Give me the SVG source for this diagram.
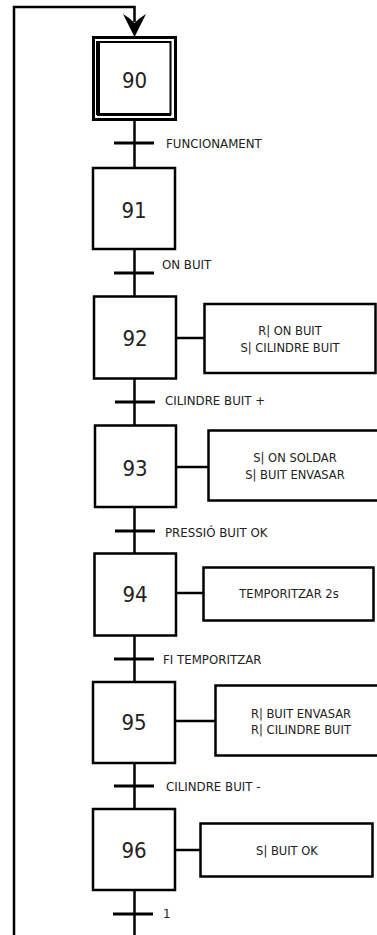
<svg xmlns="http://www.w3.org/2000/svg" width="377" height="935" viewBox="0 0 377 935">
<style>
.step{fill:#fff;stroke:#000;stroke-width:2.5}
.act{fill:#fff;stroke:#000;stroke-width:2.5}
.ln{fill:none;stroke:#000;stroke-width:2.5}
.bar{stroke:#000;stroke-width:3}
.num{font-family:"DejaVu Sans Condensed","DejaVu Sans",sans-serif;font-size:22px;fill:#222;text-anchor:middle}
.lbl{font-family:"DejaVu Sans",sans-serif;font-size:11.8px;fill:#222}
.atx{font-family:"DejaVu Sans",sans-serif;font-size:11.5px;fill:#222;text-anchor:middle}
</style>
<rect width="377" height="935" fill="#fff"/>
<g id="connectors">
<polyline class="ln" points="14,935 14,7 134.5,7 134.5,22" stroke-width="3"/>
<path d="M123,14 Q130,18 134.5,23 Q139,18 146,14 L134.5,37 Z" fill="#000"/>
<line class="ln" x1="134.5" y1="120" x2="134.5" y2="168"/>
<line class="ln" x1="134.5" y1="249" x2="134.5" y2="296"/>
<line class="ln" x1="134.5" y1="379" x2="134.5" y2="425"/>
<line class="ln" x1="134.5" y1="507" x2="134.5" y2="553"/>
<line class="ln" x1="134.5" y1="636" x2="134.5" y2="682"/>
<line class="ln" x1="134.5" y1="763" x2="134.5" y2="809"/>
<line class="ln" x1="134.5" y1="890" x2="134.5" y2="935"/>
<line class="bar" x1="114" y1="143" x2="154" y2="143"/>
<line class="bar" x1="114" y1="273" x2="154" y2="273"/>
<line class="bar" x1="115" y1="402" x2="155" y2="402"/>
<line class="bar" x1="115" y1="531" x2="155" y2="531"/>
<line class="bar" x1="114" y1="659" x2="154" y2="659"/>
<line class="bar" x1="114" y1="786" x2="154" y2="786"/>
<line class="bar" x1="113" y1="914" x2="153" y2="914"/>
<line class="ln" x1="176" y1="338" x2="204" y2="338"/>
<line class="ln" x1="176" y1="467" x2="208" y2="467"/>
<line class="ln" x1="176" y1="593" x2="203" y2="593"/>
<line class="ln" x1="175" y1="721" x2="215" y2="721"/>
<line class="ln" x1="175" y1="850" x2="200" y2="850"/>
</g>
<g id="transitions">
<text class="lbl" x="166" y="148">FUNCIONAMENT</text>
<text class="lbl" x="162" y="269">ON BUIT</text>
<text class="lbl" x="165" y="405">CILINDRE BUIT +</text>
<text class="lbl" x="165" y="537">PRESSIÓ BUIT OK</text>
<text class="lbl" x="163" y="664">FI TEMPORITZAR</text>
<text class="lbl" x="166" y="791">CILINDRE BUIT -</text>
<text class="lbl" x="163" y="918">1</text>
</g>
<g id="step90">
<rect x="93.5" y="37.5" width="82" height="82" fill="#fff" stroke="#000" stroke-width="3"/>
<rect x="98.5" y="42" width="72" height="72" fill="none" stroke="#000" stroke-width="2"/>
<rect x="96" y="41" width="4" height="74" fill="#000"/>
<line x1="97" y1="114.5" x2="171" y2="114.5" stroke="#000" stroke-width="3"/>
<text class="num" x="134.5" y="88">90</text>
</g>
<g id="step91">
<rect class="step" x="93" y="168" width="82" height="81"/>
<text class="num" x="134" y="218">91</text>
</g>
<g id="step92">
<rect class="step" x="94" y="296.5" width="82" height="82" stroke-width="3.5"/>
<text class="num" x="135" y="346">92</text>
</g>
<g id="action92">
<rect class="act" x="204.5" y="304" width="171" height="69" stroke-width="3"/>
<text class="atx" x="290" y="335">R| ON BUIT</text>
<text class="atx" x="290" y="352">S| CILINDRE BUIT</text>
</g>
<g id="step93">
<rect class="step" x="95" y="425.5" width="81" height="81.5"/>
<text class="num" x="135" y="476">93</text>
</g>
<g id="action93">
<rect class="act" x="208.5" y="430.5" width="172" height="70"/>
<text class="atx" x="295" y="462">S| ON SOLDAR</text>
<text class="atx" x="295" y="479">S| BUIT ENVASAR</text>
</g>
<g id="step94">
<rect class="step" x="94.5" y="553.5" width="81.5" height="82"/>
<text class="num" x="135" y="602">94</text>
</g>
<g id="action94">
<rect class="act" x="203.5" y="567.5" width="170" height="53"/>
<text class="atx" x="289" y="598">TEMPORITZAR 2s</text>
</g>
<g id="step95">
<rect class="step" x="93" y="682" width="82" height="81"/>
<text class="num" x="134" y="730">95</text>
</g>
<g id="action95">
<rect class="act" x="215.5" y="685.5" width="165" height="70"/>
<text class="atx" x="301" y="718">R| BUIT ENVASAR</text>
<text class="atx" x="301" y="734">R| CILINDRE BUIT</text>
</g>
<g id="step96">
<rect class="step" x="93" y="809" width="82" height="81"/>
<text class="num" x="134" y="858">96</text>
</g>
<g id="action96">
<rect class="act" x="200.5" y="823.5" width="172" height="53"/>
<text class="atx" x="287" y="855">S| BUIT OK</text>
</g>
</svg>
